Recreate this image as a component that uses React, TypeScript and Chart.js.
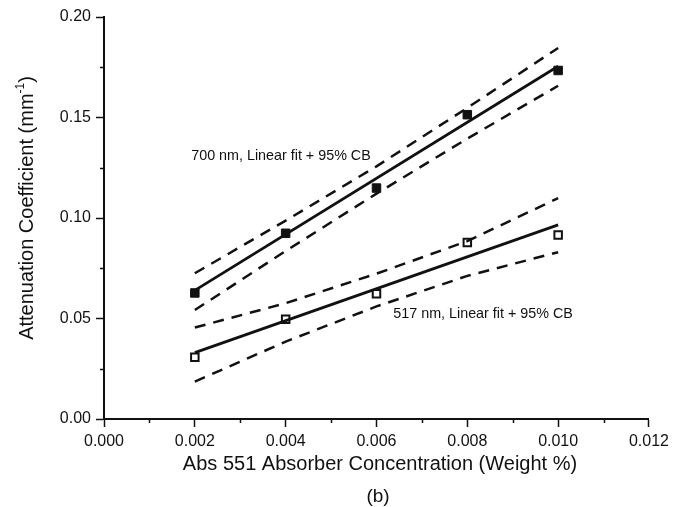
import React, { useEffect, useRef } from "react";
import { Chart, registerables } from "chart.js";

Chart.register(...registerables);

// Concentration (weight %)
const concentrations = [0.002, 0.004, 0.006, 0.008, 0.01];
const fitEnds = [0.002, 0.01];

// 700 nm
const att700 = [0.0627, 0.0924, 0.1149, 0.1514, 0.1734];
const fit700 = [0.064, 0.1755];
const upper700 = [0.0725, 0.0987, 0.1257, 0.1548, 0.1846];
const lower700 = [0.0542, 0.0836, 0.1121, 0.1395, 0.1658];

// 517 nm
const att517 = [0.0307, 0.0496, 0.0623, 0.0878, 0.0916];
const fit517 = [0.033, 0.0966];
const upper517 = [0.0455, 0.0576, 0.0723, 0.0885, 0.1099];
const lower517 = [0.0186, 0.0385, 0.056, 0.0712, 0.083];

const xMinorTicks = [0.001, 0.003, 0.005, 0.007, 0.009, 0.011];
const yMinorTicks = [0.025, 0.075, 0.125, 0.175];

const xTitle = "Abs 551 Absorber Concentration (Weight %)";
const yTitleMain = "Attenuation Coefficient (mm";
const yTitleSup = "-1";
const panelLabel = "(b)";
const note700 = "700 nm, Linear fit + 95% CB";
const note517 = "517 nm, Linear fit + 95% CB";
const note700Pos = { x: 0.00192, y: 0.131 };
const note517Pos = { x: 0.00637, y: 0.0524 };

const FONT = "'Liberation Sans', Arial, sans-serif";
const INK = "#111";

const pts = (xs: number[], ys: number[]) => xs.map((x, i) => ({ x, y: ys[i] }));

export default function App() {
  const ref = useRef<HTMLCanvasElement | null>(null);

  useEffect(() => {
    if (!ref.current) return;

    const decor = {
      id: "decor",
      afterDraw(chart: any) {
        const ctx = chart.ctx;
        const xs = chart.scales.x;
        const ys = chart.scales.y;
        const area = chart.chartArea;
        ctx.save();
        ctx.strokeStyle = INK;
        ctx.lineWidth = 1.5;
        // minor ticks
        xMinorTicks.forEach((v) => {
          const px = Math.round(xs.getPixelForValue(v)) + 0.5;
          ctx.beginPath();
          ctx.moveTo(px, area.bottom);
          ctx.lineTo(px, area.bottom + 4);
          ctx.stroke();
        });
        yMinorTicks.forEach((v) => {
          const py = Math.round(ys.getPixelForValue(v)) + 0.5;
          ctx.beginPath();
          ctx.moveTo(area.left, py);
          ctx.lineTo(area.left - 4, py);
          ctx.stroke();
        });

        ctx.fillStyle = INK;
        // x title
        ctx.font = `20px ${FONT}`;
        ctx.textAlign = "center";
        ctx.textBaseline = "alphabetic";
        ctx.fillText(xTitle, 380, 470);
        // panel label
        ctx.font = `19px ${FONT}`;
        ctx.fillText(panelLabel, 378, 502);

        // y title
        ctx.save();
        ctx.translate(27, 208);
        ctx.rotate(-Math.PI / 2);
        ctx.textBaseline = "middle";
        ctx.font = `20px ${FONT}`;
        const wMain = ctx.measureText(yTitleMain).width;
        ctx.font = `12px ${FONT}`;
        const wSup = ctx.measureText(yTitleSup).width;
        ctx.font = `20px ${FONT}`;
        const wClose = ctx.measureText(")").width;
        const total = wMain + wSup + wClose;
        let cx = -total / 2;
        ctx.textAlign = "left";
        ctx.fillText(yTitleMain, cx, 0);
        cx += wMain;
        ctx.font = `12px ${FONT}`;
        ctx.fillText(yTitleSup, cx, -6);
        cx += wSup;
        ctx.font = `20px ${FONT}`;
        ctx.fillText(")", cx, 0);
        ctx.restore();

        // annotations (slightly condensed)
        ctx.font = `15px ${FONT}`;
        ctx.textAlign = "left";
        ctx.textBaseline = "middle";
        const drawNote = (t: string, p: { x: number; y: number }) => {
          ctx.save();
          ctx.translate(xs.getPixelForValue(p.x), ys.getPixelForValue(p.y));
          ctx.scale(0.955, 1);
          ctx.fillText(t, 0, 0);
          ctx.restore();
        };
        drawNote(note700, note700Pos);
        drawNote(note517, note517Pos);
        ctx.restore();
      },
    };

    const lineDs = (data: any[], dashed: boolean) => ({
      data,
      showLine: true,
      borderColor: INK,
      borderWidth: dashed ? 2.5 : 2.8,
      borderDash: dashed ? [11, 8] : [],
      pointRadius: 0,
      fill: false,
      tension: 0,
    });

    const chart = new Chart(ref.current, {
      type: "scatter",
      data: {
        datasets: [
          lineDs(pts(concentrations, upper700), true),
          lineDs(pts(concentrations, lower700), true),
          lineDs(pts(fitEnds, fit700), false),
          lineDs(pts(concentrations, upper517), true),
          lineDs(pts(concentrations, lower517), true),
          lineDs(pts(fitEnds, fit517), false),
          {
            data: pts(concentrations, att700),
            pointStyle: "rect",
            pointRadius: 6,
            backgroundColor: INK,
            borderColor: INK,
            borderWidth: 1,
            showLine: false,
          },
          {
            data: pts(concentrations, att517),
            pointStyle: "rect",
            pointRadius: 5.3,
            backgroundColor: "#fff",
            borderColor: INK,
            borderWidth: 2,
            showLine: false,
          },
        ],
      },
      options: {
        responsive: false,
        animation: false,
        layout: { padding: { top: 17, right: 25, left: 0, bottom: 0 } },
        plugins: { legend: { display: false }, tooltip: { enabled: false } },
        scales: {
          x: {
            type: "linear",
            min: 0,
            max: 0.012,
            afterFit: (s: any) => {
              s.height = 88;
            },
            border: { color: INK, width: 2 },
            grid: {
              drawOnChartArea: false,
              tickLength: 8,
              tickWidth: 1.5,
              tickColor: (c: any) =>
                c.tick && Math.round(c.tick.value * 1000) % 2 === 0 ? INK : "rgba(0,0,0,0)",
            },
            ticks: {
              stepSize: 0.001,
              autoSkip: false,
              maxRotation: 0,
              padding: 5,
              color: INK,
              font: { family: FONT, size: 16 },
              callback: (v: any) =>
                Math.round(Number(v) * 1000) % 2 === 0 ? Number(v).toFixed(3) : "",
            },
          },
          y: {
            type: "linear",
            min: 0,
            max: 0.2,
            afterFit: (s: any) => {
              s.width = 104;
            },
            border: { color: INK, width: 2 },
            grid: {
              drawOnChartArea: false,
              tickLength: 8,
              tickWidth: 1.5,
              tickColor: (c: any) =>
                c.tick && Math.round(c.tick.value * 1000) % 50 === 0 ? INK : "rgba(0,0,0,0)",
            },
            ticks: {
              stepSize: 0.025,
              autoSkip: false,
              padding: 5,
              color: INK,
              font: { family: FONT, size: 16 },
              callback: (v: any) =>
                Math.round(Number(v) * 1000) % 50 === 0 ? Number(v).toFixed(2) : "",
            },
          },
        },
      },
      plugins: [decor],
    });

    return () => chart.destroy();
  }, []);

  return (
    <div style={{ position: "absolute", left: 0, top: 0, width: 674, height: 507, background: "#fff" }}>
      <canvas ref={ref} width={674} height={507} style={{ display: "block" }} />
    </div>
  );
}
